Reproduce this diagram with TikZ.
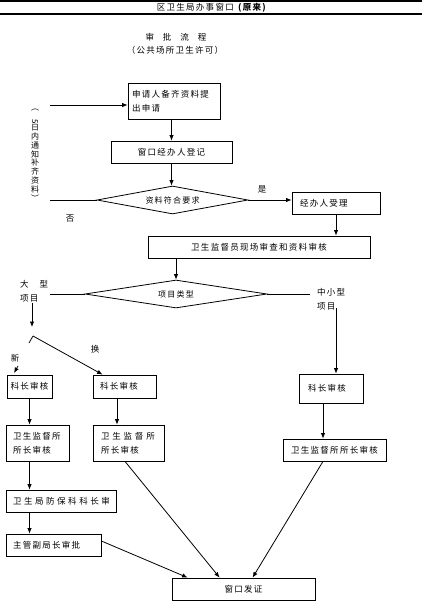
\documentclass[tikz,border=0pt]{standalone}
\usepackage{fontspec}
\usepackage{graphicx}
\setmainfont[LetterSpace=15]{Noto Sans CJK SC}
\usetikzlibrary{shapes.geometric,arrows.meta}
\tikzset{
  flowbox/.style={draw, line width=0.8pt, minimum height=22pt, inner xsep=4pt,
                  inner ysep=0pt, font=\fontsize{8.5}{14}\selectfont},
  leftbox/.style={flowbox, align=left},
  decision/.style={draw, diamond, line width=0.8pt, aspect=5, inner sep=0pt,
                   font=\fontsize{8}{9}\selectfont},
  lbl/.style={inner sep=0pt, font=\fontsize{8.5}{14}\selectfont},
  link/.style={line width=0.8pt},
  arr/.style={link, -{Latex[length=5.5pt,width=4.5pt]}},
}

\begin{document}
\begin{tikzpicture}[x=1pt, y=-1pt]
    \useasboundingbox (0,0) rectangle (422,610);
    % title bar
    \draw[line width=1.2pt] (0,1) -- (422,1);
    \draw[line width=1.2pt] (0,14) -- (422,14);
    \node[lbl] (title) at (212,7.5) {区卫生局办事窗口 \textbf{(原来)}};
    \node[lbl] (heading) at (176,37) {审\hspace{9pt}批\hspace{9pt}流\hspace{9pt}程};
    \node[lbl] (subhead) at (175,50) {（公共场所卫生许可）};

    % boxes
    \node[leftbox, text width=84pt, minimum height=36pt] (apply) at (174,101) {申请人备齐资料提\\出申请};
    \node[flowbox, minimum width=121pt] (register) at (171.5,152) {窗口经办人登记};
    \node[decision, minimum width=151pt, minimum height=28pt] (check) at (172.5,200) {资料符合要求};
    \node[leftbox, inner xsep=8pt, text width=72pt] (accept) at (336,203) {经办人受理};
    \node[flowbox, minimum width=222pt] (inspect) at (259,247) {卫生监督员现场审查和资料审核};
    \node[decision, minimum width=182pt, minimum height=28pt] (type) at (176,294) {项目类型};

    \node[flowbox, inner xsep=2pt, minimum width=45pt, minimum height=23pt] (kz1) at (29.5,386.5) {科长审核};
    \node[leftbox, inner xsep=7pt, text width=49pt, minimum height=23pt] (kz2) at (124.5,386.5) {科长审核};
    \node[leftbox, inner xsep=9pt, text width=46pt, minimum height=29pt] (kz3) at (331,388.5) {科长审核};
    \node[leftbox, inner xsep=7pt, text width=49pt, minimum height=36pt] (sz1) at (37.5,443) {卫生监督所\\所长审核};
    \node[leftbox, inner xsep=8pt, text width=55pt, minimum height=36pt] (sz2) at (128.5,443) {卫~生~监~督~所\\所长审核};
    \node[flowbox, minimum width=103pt] (sz3) at (334.5,450) {卫生监督所所长审核};
    \node[leftbox, inner xsep=7pt, text width=96pt] (fb) at (61,501) {\addfontfeatures{LetterSpace=30}卫生局防保科科长审};
    \node[leftbox, inner xsep=7pt, text width=81pt] (fj) at (53.5,545) {主管副局长审批};
    \node[flowbox, minimum width=143pt] (issue) at (243.5,589) {窗口发证};

    % labels
    \node[lbl, align=center, font=\fontsize{8}{8.8}\selectfont] (notice) at (35,155)
      {︵\\\rotatebox{-90}{5}\\日\\内\\通\\知\\补\\齐\\资\\料\\︶};
    \node[lbl] (no) at (70,219) {否};
    \node[lbl] (yes) at (262,189) {是};
    \node[lbl, align=left, anchor=west] (big) at (20,291.5) {大　型\\项目};
    \node[lbl, align=left, anchor=west] (small) at (317,299) {中小型\\项目};
    \node[lbl] (swap) at (95,349) {换};
    \node[lbl] (new) at (15,358) {新};

    % free ends
    \coordinate (backtop) at (50,105);
    \coordinate (backbot) at (50,200);
    \coordinate (bigend) at (50,294);
    \coordinate (smallend) at (310,294);
    \coordinate (bigdrop) at (32,327);
    \coordinate (fork) at (33,336);
    \coordinate (newstub) at (29,343);
    \coordinate (newa) at (18,366);
    \coordinate (newb) at (14,373);
    \coordinate (smalltop) at (336,308);

    % connectors
    \draw[arr] (backtop) -- (backtop -| apply.west);
    \draw[link] (check.west) -- (backbot);
    \draw[arr] (register.north |- apply.south) -- (register.north);
    \draw[arr] (register.south) -- (register.south |- check.north);
    \draw[arr] (check.east) -- (check.east -| accept.west);
    \draw[arr] (accept.south) -- (accept.south |- inspect.north);
    \draw[arr] (type.north |- inspect.south) -- (type.north);
    \draw[link] (type.west) -- (bigend);
    \draw[link] (type.east) -- (smallend);
    \draw[arr] (big.south -| bigdrop) -- (bigdrop);
    \draw[link] (fork) -- (newstub);
    \draw[arr] (newa) -- (newb);
    \draw[arr] (fork) -- ([xshift=10pt]kz2.north west);
    \draw[arr] (smalltop) -- (smalltop |- kz3.north);
    \draw[arr] (kz1.south) -- (kz1.south |- sz1.north);
    \draw[arr] ([xshift=-7.5pt]kz2.south) -- ([xshift=-7.5pt]kz2.south |- sz2.north);
    \draw[arr] ([xshift=-8pt]kz3.south) -- ([xshift=-8pt]kz3.south |- sz3.north);
    \draw[arr] (kz1.south |- sz1.south) -- (kz1.south |- fb.north);
    \draw[arr] (kz1.south |- fb.south) -- (kz1.south |- fj.north);
    \draw[arr] ([yshift=4pt]fj.east) -- ([xshift=16pt]issue.north west);
    \draw[arr] ([xshift=-3.5pt]sz2.south) -- ([xshift=48pt]issue.north west);
    \draw[arr] ([xshift=-11.5pt]sz3.south) -- ([xshift=81pt]issue.north west);
  \end{tikzpicture}
\end{document}
